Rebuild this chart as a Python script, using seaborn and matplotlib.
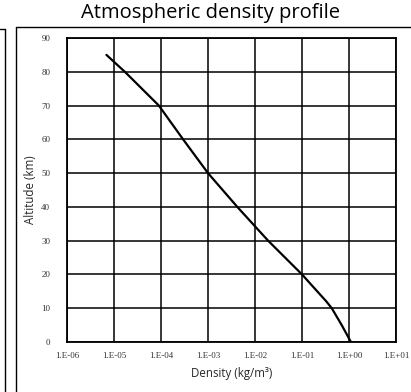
import matplotlib

matplotlib.use("Agg")

import matplotlib.pyplot as plt
import pandas as pd
import seaborn as sns
from matplotlib.lines import Line2D

# altitude (km) and density (kg/m3)
ALTITUDE = [0, 5, 10, 12, 20, 30, 40, 50, 60, 70, 80, 85]
DENSITY = [1.1, 0.70, 0.43, 0.33, 0.1, 0.019, 0.0042, 0.001, 0.000295, 9.0e-5, 1.7e-5, 6.9e-6]

X_TICKS = [1e-6, 1e-5, 1e-4, 1e-3, 1e-2, 1e-1, 1e0, 1e1]
X_TICK_LABELS = ["1.E-06", "1.E-05", "1.E-04", "1.E-03", "1.E-02", "1.E-01", "1.E+00", "1.E+01"]
Y_TICKS = list(range(0, 100, 10))


def main():
    sns.set_style("white")
    plt.rcParams["font.family"] = ["Open Sans", "DejaVu Sans"]

    df = pd.DataFrame({"Altitude": ALTITUDE, "Density": DENSITY})

    fig = plt.figure(figsize=(4.11, 3.92), dpi=100)
    ax = fig.add_axes([67 / 411, 50 / 392, 329 / 411, 304 / 392])

    sns.lineplot(data=df, x="Density", y="Altitude", sort=False,
                 color="black", linewidth=1.6, ax=ax)

    ax.set_xscale("log")
    ax.set_xlim(1e-6, 1e1)
    ax.set_ylim(0, 90)
    ax.set_xticks(X_TICKS)
    ax.set_xticklabels(X_TICK_LABELS)
    ax.set_yticks(Y_TICKS)
    ax.minorticks_off()
    ax.grid(True, color="black", linewidth=1.1)
    ax.set_axisbelow(True)
    for sp in ax.spines.values():
        sp.set_color("black")
        sp.set_linewidth(1.3)
    ax.tick_params(axis="both", length=0, labelsize=6.5, labelcolor="#333333")
    ax.tick_params(axis="x", pad=7)
    ax.tick_params(axis="y", pad=12)
    for lab in ax.get_xticklabels() + ax.get_yticklabels():
        lab.set_family("Liberation Serif")

    ax.set_xlabel("Density (kg/m³)", fontsize=8.3, labelpad=5)
    ax.set_ylabel("Altitude (km)", fontsize=8.3, labelpad=3)

    fig.text(210 / 411, 1 - 13 / 392, "Atmospheric density profile",
             fontsize=14.5, ha="center", va="center", color="black")

    # neighbouring chart frames visible in the screenshot
    lw = 1.0
    fig.add_artist(Line2D([16 / 411, 1.0], [1 - 27 / 392] * 2, color="black", linewidth=lw))
    fig.add_artist(Line2D([16 / 411] * 2, [1 - 27 / 392, 0], color="black", linewidth=lw))
    fig.add_artist(Line2D([0, 5 / 411], [1 - 29 / 392] * 2, color="black", linewidth=lw))
    fig.add_artist(Line2D([5 / 411] * 2, [1 - 29 / 392, 0], color="black", linewidth=lw))

    fig.savefig("out.png", dpi=100)
    plt.close(fig)


if __name__ == "__main__":
    main()
